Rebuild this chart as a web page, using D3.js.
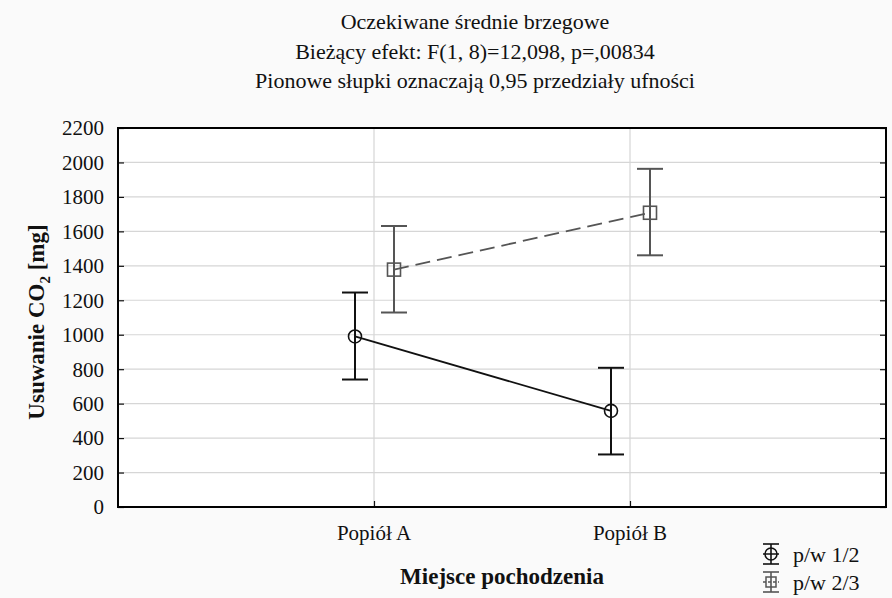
<!DOCTYPE html>
<html>
<head>
<meta charset="utf-8">
<script src="https://cdn.jsdelivr.net/npm/d3@7"></script>
<style>
  body { margin: 0; background: #fafafa; }
  svg text { font-family: "Liberation Serif", "Times New Roman", serif; fill: #111; }
</style>
</head>
<body>
<svg id="chart" width="892" height="598"></svg>
<script>
// data
var categories = ["Popiół A", "Popiół B"];
var seriesNames = ["p/w 1/2", "p/w 2/3"];
var means1 = [990, 558];
var lower1 = [740, 305];
var upper1 = [1245, 808];
var means2 = [1378, 1708];
var lower2 = [1129, 1461];
var upper2 = [1631, 1963];
var yTicks = [0, 200, 400, 600, 800, 1000, 1200, 1400, 1600, 1800, 2000, 2200];
var titleLines = ["Oczekiwane średnie brzegowe",
                  "Bieżący efekt: F(1, 8)=12,098, p=,00834",
                  "Pionowe słupki oznaczają 0,95 przedziały ufności"];

var svg = d3.select("#chart");
var plotL = 118, plotT = 128, plotR = 886, plotB = 507;

var x = d3.scalePoint().domain(["", ...categories, " "]).range([plotL, plotR]);
var y = d3.scaleLinear().domain([0, 2200]).range([plotB, plotT]);

// plot area
svg.append("rect")
    .attr("x", plotL).attr("y", plotT)
    .attr("width", plotR - plotL).attr("height", plotB - plotT)
    .attr("fill", "#fff");

// grid
svg.append("g").selectAll("line")
    .data(yTicks.slice(1, -1))
    .enter().append("line")
        .attr("x1", plotL).attr("x2", plotR)
        .attr("y1", d => y(d)).attr("y2", d => y(d))
        .attr("stroke", "#d6d6d6").attr("stroke-width", 1.2);
svg.append("g").selectAll("line")
    .data(categories)
    .enter().append("line")
        .attr("x1", d => x(d)).attr("x2", d => x(d))
        .attr("y1", plotT).attr("y2", plotB)
        .attr("stroke", "#d6d6d6").attr("stroke-width", 1.2);

// axes (ticks pointing inward)
svg.append("g")
    .attr("transform", "translate(" + plotL + ",0)")
    .call(d3.axisRight(y).tickValues(yTicks).tickSize(6).tickFormat(""))
    .select(".domain").remove();
svg.append("g")
    .attr("transform", "translate(" + plotR + ",0)")
    .call(d3.axisLeft(y).tickValues(yTicks).tickSize(6).tickFormat(""))
    .select(".domain").remove();
svg.append("g").selectAll("text")
    .data(yTicks)
    .enter().append("text")
        .attr("x", 104).attr("y", d => y(d))
        .attr("dy", "0.35em")
        .attr("text-anchor", "end")
        .style("font-size", "21px")
        .text(d => d);

svg.append("g")
    .attr("transform", "translate(0," + plotB + ")")
    .call(d3.axisTop(x).tickValues(categories).tickSize(6).tickFormat(""))
    .select(".domain").remove();
svg.append("g").selectAll("text")
    .data(categories)
    .enter().append("text")
        .attr("x", d => x(d)).attr("y", 540)
        .attr("text-anchor", "middle")
        .style("font-size", "21px")
        .text(d => d);
svg.selectAll(".tick line").attr("stroke", "#111").attr("stroke-width", 1.2);

// frame
svg.append("rect")
    .attr("x", plotL).attr("y", plotT)
    .attr("width", plotR - plotL).attr("height", plotB - plotT)
    .attr("fill", "none").attr("stroke", "#000").attr("stroke-width", 2);

// series
function drawSeries(means, lower, upper, offset, color, dash, shape) {
    var g = svg.append("g");
    var pts = categories.map((c, i) => ({ cx: x(c) + offset, m: means[i], lo: lower[i], hi: upper[i] }));
    g.append("path")
        .datum(pts)
        .attr("d", d3.line().x(d => d.cx).y(d => y(d.m)))
        .attr("fill", "none").attr("stroke", color).attr("stroke-width", 1.8)
        .attr("stroke-dasharray", dash);
    var bars = g.selectAll(".bar").data(pts).enter().append("g");
    bars.append("line")
        .attr("x1", d => d.cx).attr("x2", d => d.cx)
        .attr("y1", d => y(d.lo)).attr("y2", d => y(d.hi))
        .attr("stroke", color).attr("stroke-width", 2);
    bars.append("line")
        .attr("x1", d => d.cx - 13).attr("x2", d => d.cx + 13)
        .attr("y1", d => y(d.hi)).attr("y2", d => y(d.hi))
        .attr("stroke", color).attr("stroke-width", 2);
    bars.append("line")
        .attr("x1", d => d.cx - 13).attr("x2", d => d.cx + 13)
        .attr("y1", d => y(d.lo)).attr("y2", d => y(d.lo))
        .attr("stroke", color).attr("stroke-width", 2);
    if (shape === "circle") {
        bars.append("circle")
            .attr("cx", d => d.cx).attr("cy", d => y(d.m)).attr("r", 6.5)
            .attr("fill", "none").attr("stroke", color).attr("stroke-width", 1.6);
    } else {
        bars.append("rect")
            .attr("x", d => d.cx - 6.5).attr("y", d => y(d.m) - 6.5)
            .attr("width", 13).attr("height", 13)
            .attr("fill", "none").attr("stroke", color).attr("stroke-width", 1.6);
    }
}
drawSeries(means1, lower1, upper1, -19, "#111", null, "circle");
drawSeries(means2, lower2, upper2, 20, "#555", "15,7", "square");

// titles
svg.append("g").selectAll("text")
    .data(titleLines)
    .enter().append("text")
        .attr("x", 475).attr("y", (d, i) => 29 + i * 29.5)
        .attr("text-anchor", "middle")
        .style("font-size", "22px")
        .text(d => d);

svg.append("text")
    .attr("x", 502).attr("y", 584)
    .attr("text-anchor", "middle")
    .style("font-size", "23px").style("font-weight", "bold")
    .text("Miejsce pochodzenia");

var ylab = svg.append("text")
    .attr("transform", "translate(44,322) rotate(-90)")
    .attr("text-anchor", "middle")
    .style("font-size", "23px").style("font-weight", "bold");
ylab.append("tspan").text("Usuwanie CO");
ylab.append("tspan").attr("dy", 6).style("font-size", "15px").text("2");
ylab.append("tspan").attr("dy", -6).text(" [mg]");

// legend
var legColors = ["#111", "#555"];
var legend = svg.append("g").selectAll("g")
    .data(seriesNames)
    .enter().append("g")
        .attr("transform", (d, i) => "translate(771," + (554 + i * 28) + ")");
legend.append("line")
    .attr("x1", 0).attr("x2", 0).attr("y1", -10).attr("y2", 10)
    .attr("stroke", (d, i) => legColors[i]).attr("stroke-width", 1.6);
legend.append("line")
    .attr("x1", -8).attr("x2", 8).attr("y1", -10).attr("y2", -10)
    .attr("stroke", (d, i) => legColors[i]).attr("stroke-width", 1.6);
legend.append("line")
    .attr("x1", -8).attr("x2", 8).attr("y1", 10).attr("y2", 10)
    .attr("stroke", (d, i) => legColors[i]).attr("stroke-width", 1.6);
legend.filter((d, i) => i === 0).append("circle")
    .attr("r", 6).attr("fill", "none").attr("stroke", "#111").attr("stroke-width", 1.5);
legend.filter((d, i) => i === 0).append("line")
    .attr("x1", -8).attr("x2", 8).attr("stroke", "#111").attr("stroke-width", 1.5);
legend.filter((d, i) => i === 1).append("rect")
    .attr("x", -5).attr("y", -5).attr("width", 10).attr("height", 10)
    .attr("fill", "none").attr("stroke", "#555").attr("stroke-width", 1.5);
legend.filter((d, i) => i === 1).append("line")
    .attr("x1", -8).attr("x2", 8).attr("stroke", "#555").attr("stroke-width", 1.5)
    .attr("stroke-dasharray", "3,2");
legend.append("text")
    .attr("x", 22).attr("y", 0).attr("dy", "0.35em")
    .style("font-size", "22px")
    .text(d => d);
</script>
</body>
</html>
